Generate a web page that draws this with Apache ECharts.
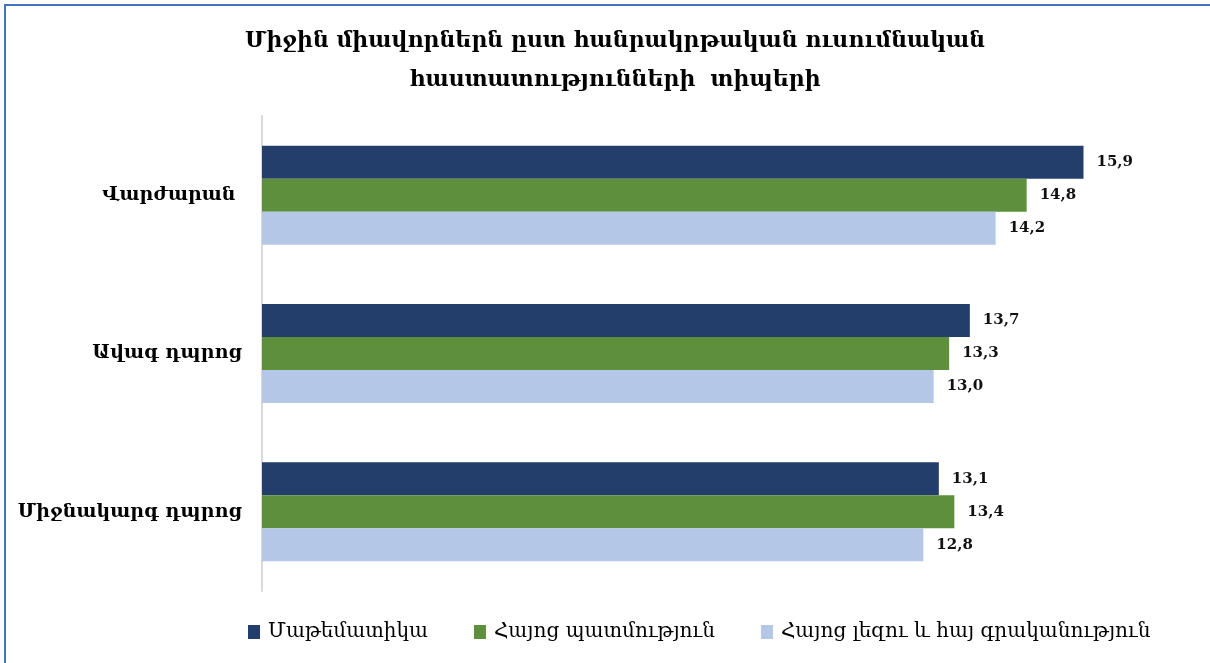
<!DOCTYPE html>
<html>
<head>
<meta charset="utf-8">
<script src="https://cdn.jsdelivr.net/npm/echarts@6/dist/echarts.min.js"></script>
<style>
html,body{margin:0;padding:0;background:#fff;}
#c{width:1210px;height:663px;}
</style>
</head>
<body>
<div id="c"></div>
<script>
var titleText = "Միջին միավորներն ըստ հանրակրթական ուսումնական\nհաստատությունների  տիպերի";
var categories = ["Վարժարան ", "Ավագ դպրոց", "Միջնակարգ դպրոց"];
var seriesNames = ["Մաթեմատիկա", "Հայոց պատմություն", "Հայոց լեզու և հայ գրականություն"];
var mathValues = [15.9, 13.7, 13.1];
var historyValues = [14.8, 13.3, 13.4];
var languageValues = [14.2, 13.0, 12.8];
var colors = ["#243e6c", "#5d8f3c", "#b4c7e7"];

var font = "DejaVu Serif";
var chart = echarts.init(document.getElementById('c'), null, {renderer: 'canvas'});
function mk(name, data, color) {
  return {
    name: name, type: 'bar', data: data, barWidth: 33, barGap: '0%',
    itemStyle: {color: color},
    label: {show: true, position: 'right', distance: 13, color: '#111', fontFamily: font,
      fontWeight: 'bold', fontSize: 15,
      formatter: function(p){ return p.value.toFixed(1).replace('.', ','); }}
  };
}
chart.setOption({
  backgroundColor: '#fff',
  animation: false,
  color: colors,
  title: {text: titleText, left: 610, textAlign: 'center', top: 17,
    textStyle: {fontFamily: font, fontSize: 22, fontWeight: 'bold', color: '#000', lineHeight: 39}},
  legend: {bottom: 16, left: 243, itemWidth: 12, itemHeight: 14, itemGap: 46,
    icon: 'rect', data: seriesNames,
    textStyle: {fontFamily: font, fontSize: 20, color: '#000', padding: [0,0,0,3]}},
  grid: {left: 262, right: 18, top: 116, bottom: 72, containLabel: false},
  xAxis: {type: 'value', min: 0, max: 18, show: false},
  yAxis: {type: 'category', data: categories, inverse: true,
    axisLine: {show: true, lineStyle: {color: '#d9d9d9', width: 2}},
    axisTick: {show: false}, splitLine: {show: false},
    axisLabel: {margin: 20, fontFamily: font, fontSize: 19, fontWeight: 'bold', color: '#000'}},
  series: [mk(seriesNames[0], mathValues, colors[0]), mk(seriesNames[1], historyValues, colors[1]), mk(seriesNames[2], languageValues, colors[2])],
  graphic: [
    {type: 'line', shape: {x1: 4, y1: 5, x2: 1210, y2: 5}, style: {stroke: '#4472c4', lineWidth: 2}},
    {type: 'line', shape: {x1: 5, y1: 5, x2: 5, y2: 663}, style: {stroke: '#4472c4', lineWidth: 2}}
  ]
});
</script>
</body>
</html>
